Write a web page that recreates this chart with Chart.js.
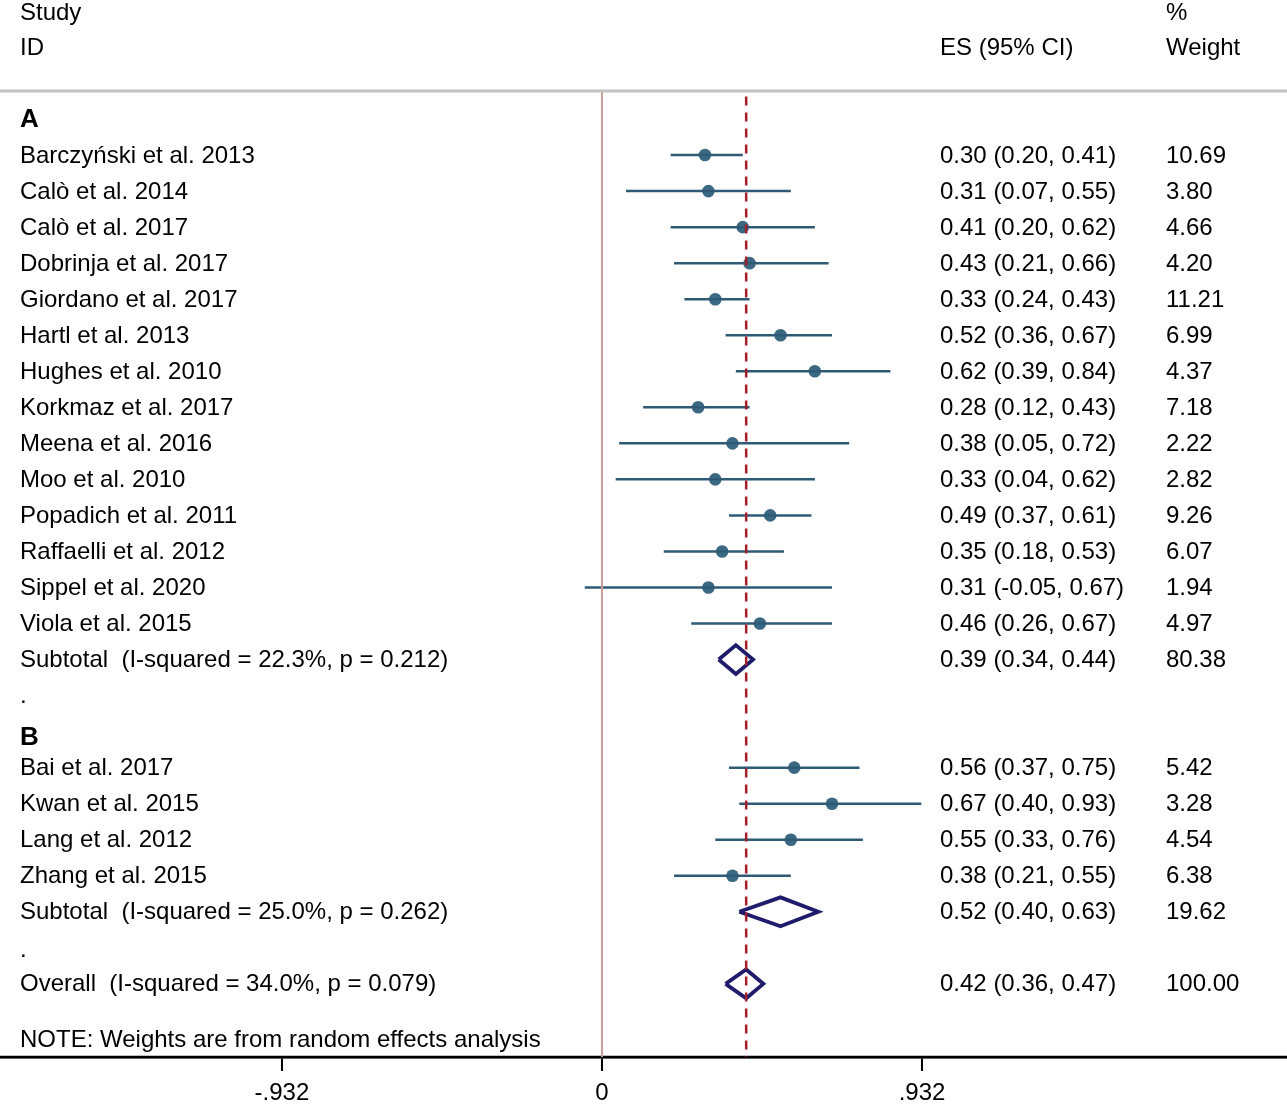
<!DOCTYPE html>
<html>
<head>
<meta charset="utf-8">
<script src="https://cdn.jsdelivr.net/npm/chart.js@4"></script>
<style>
  body { margin: 0; background: #fff; }
  #wrap { width: 1287px; height: 1115px; position: relative; }
</style>
</head>
<body>
<div id="wrap"><canvas id="chart"></canvas></div>
<script>
// group A studies
const studiesA = ['Barczyński et al. 2013', 'Calò et al. 2014', 'Calò et al. 2017', 'Dobrinja et al. 2017',
  'Giordano et al. 2017', 'Hartl et al. 2013', 'Hughes et al. 2010', 'Korkmaz et al. 2017',
  'Meena et al. 2016', 'Moo et al. 2010', 'Popadich et al. 2011', 'Raffaelli et al. 2012',
  'Sippel et al. 2020', 'Viola et al. 2015'];
const esA = [0.30, 0.31, 0.41, 0.43, 0.33, 0.52, 0.62, 0.28, 0.38, 0.33, 0.49, 0.35, 0.31, 0.46];
const loA = [0.20, 0.07, 0.20, 0.21, 0.24, 0.36, 0.39, 0.12, 0.05, 0.04, 0.37, 0.18, -0.05, 0.26];
const hiA = [0.41, 0.55, 0.62, 0.66, 0.43, 0.67, 0.84, 0.43, 0.72, 0.62, 0.61, 0.53, 0.67, 0.67];
const wA = ['10.69', '3.80', '4.66', '4.20', '11.21', '6.99', '4.37', '7.18', '2.22', '2.82', '9.26', '6.07', '1.94', '4.97'];

// group B studies
const studiesB = ['Bai et al. 2017', 'Kwan et al. 2015', 'Lang et al. 2012', 'Zhang et al. 2015'];
const esB = [0.56, 0.67, 0.55, 0.38];
const loB = [0.37, 0.40, 0.33, 0.21];
const hiB = [0.75, 0.93, 0.76, 0.55];
const wB = ['5.42', '3.28', '4.54', '6.38'];

// pooled estimates: subtotal A, subtotal B, overall
const pooledLabels = ['Subtotal  (I-squared = 22.3%, p = 0.212)', 'Subtotal  (I-squared = 25.0%, p = 0.262)',
  'Overall  (I-squared = 34.0%, p = 0.079)'];
const pooledEs = [0.39, 0.52, 0.42];
const pooledLo = [0.34, 0.40, 0.36];
const pooledHi = [0.44, 0.63, 0.47];
const pooledW = ['80.38', '19.62', '100.00'];

const tickVals = [-0.932, 0, 0.932];
const tickLabels = ['-.932', '0', '.932'];

// row layout (one unit per line)
const rowsA = studiesA.map((_, i) => i);
const rowsB = studiesB.map((_, i) => 17 + i);
const pooledRows = [14, 21, 23];
const X_MIN = -1.753, X_MAX = 1.995;
const Y_MIN = -1.778, Y_MAX = 25.03;

const fmt = v => v.toFixed(2);
const ciText = (e, l, h) => `${fmt(e)} (${fmt(l)}, ${fmt(h)})`;

const ciColor = '#2e5a76';
const dotColor = '#3b6882';
const diamondColor = '#201c6c';
const FONT = '"Liberation Sans", Arial, sans-serif';

const datasets = [];
const line = (pts, color, width, extra) => Object.assign({
  type: 'scatter', data: pts, showLine: true, borderColor: color, borderWidth: width,
  pointRadius: 0, pointHoverRadius: 0, fill: false, tension: 0
}, extra || {});

// top rule, zero line, overall dashed line
datasets.push(line([{ x: X_MIN, y: Y_MIN }, { x: X_MAX, y: Y_MIN }], '#c2c2c2', 3, { clip: false }));
datasets.push(line([{ x: 0, y: Y_MIN }, { x: 0, y: Y_MAX }], '#c79d96', 2));
datasets.push(line([{ x: pooledEs[2], y: Y_MIN + 0.15 }, { x: pooledEs[2], y: Y_MAX }], '#a3202a', 2.5,
  { borderDash: [9, 7] }));

// confidence intervals
const allLo = loA.concat(loB), allHi = hiA.concat(hiB), allEs = esA.concat(esB), allRows = rowsA.concat(rowsB);
allRows.forEach((r, i) => {
  datasets.push(line([{ x: allLo[i], y: r }, { x: allHi[i], y: r }], ciColor, 2.5));
});
// point estimates
datasets.push({
  type: 'scatter',
  data: allRows.map((r, i) => ({ x: allEs[i], y: r })),
  pointRadius: 6.3, pointHoverRadius: 6.3, backgroundColor: dotColor, borderColor: dotColor, borderWidth: 0
});
// diamonds
pooledRows.forEach((r, i) => {
  const h = 0.4;
  datasets.push(line([
    { x: pooledLo[i], y: r }, { x: pooledEs[i], y: r - h }, { x: pooledHi[i], y: r },
    { x: pooledEs[i], y: r + h }, { x: pooledLo[i], y: r }
  ], diamondColor, 3.8, { borderJoinStyle: 'miter' }));
});
// bottom axis rule across the full width
datasets.push(line([{ x: X_MIN, y: Y_MAX }, { x: X_MAX, y: Y_MAX }], '#000', 2.5, { clip: false }));

const textPlugin = {
  id: 'forestText',
  afterDatasetsDraw(chart) {
    const ctx = chart.ctx;
    const ys = chart.scales.y;
    const py = v => ys.getPixelForValue(v) + 1;
    ctx.save();
    ctx.fillStyle = '#000';
    ctx.textBaseline = 'middle';
    ctx.textAlign = 'left';
    ctx.font = '24px ' + FONT;
    // headers
    ctx.fillText('Study', 20, py(-3.97));
    ctx.fillText('ID', 20, py(-3.0));
    ctx.fillText('%', 1166, py(-3.97));
    ctx.fillText('ES (95% CI)', 940, py(-3.0));
    ctx.fillText('Weight', 1166, py(-3.0));
    // studies
    const put = (name, e, l, h, w, r) => {
      ctx.fillText(name, 20, py(r));
      ctx.fillText(ciText(e, l, h), 940, py(r));
      ctx.fillText(w, 1166, py(r));
    };
    studiesA.forEach((s, i) => put(s, esA[i], loA[i], hiA[i], wA[i], rowsA[i]));
    studiesB.forEach((s, i) => put(s, esB[i], loB[i], hiB[i], wB[i], rowsB[i]));
    pooledLabels.forEach((s, i) => put(s, pooledEs[i], pooledLo[i], pooledHi[i], pooledW[i], pooledRows[i]));
    ctx.fillText('.', 20, py(15));
    ctx.fillText('.', 20, py(22.04));
    ctx.fillText('NOTE: Weights are from random effects analysis', 20, py(24.54));
    ctx.font = 'bold 26px ' + FONT;
    ctx.fillText('A', 20, py(-1.0));
    ctx.fillText('B', 20, py(16.15));
    ctx.restore();
  }
};

new Chart(document.getElementById('chart'), {
  data: { datasets },
  plugins: [textPlugin],
  options: {
    responsive: true,
    maintainAspectRatio: false,
    animation: false,
    layout: { autoPadding: false, padding: { top: 91, bottom: 0, left: 0, right: 0 } },
    plugins: { legend: { display: false }, tooltip: { enabled: false } },
    scales: {
      x: {
        type: 'linear', min: X_MIN, max: X_MAX,
        afterBuildTicks: axis => { axis.ticks = tickVals.map(v => ({ value: v })); },
        ticks: {
          callback: (v) => tickLabels[tickVals.indexOf(v)],
          color: '#000', font: { size: 24, family: FONT, lineHeight: 1 },
          padding: 10, maxRotation: 0, autoSkip: false
        },
        grid: { drawOnChartArea: false, drawTicks: true, tickLength: 14, color: '#000', lineWidth: 2 },
        border: { display: true, color: '#000', width: 2.5 }
      },
      y: { type: 'linear', min: Y_MIN, max: Y_MAX, reverse: true, display: false }
    }
  }
});
</script>
</body>
</html>
